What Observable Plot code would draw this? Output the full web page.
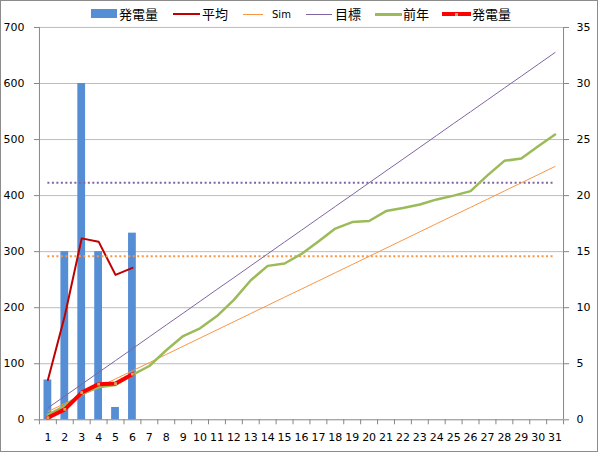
<!DOCTYPE html>
<html><head><meta charset="utf-8">
<script src="https://cdn.jsdelivr.net/npm/d3@7"></script>
<script src="https://cdn.jsdelivr.net/npm/@observablehq/plot@0.6"></script>
<style>
body{margin:0;background:#fff;}
#wrap{position:relative;width:598px;height:452px;box-sizing:border-box;border:1px solid #8c8c8c;overflow:hidden;background:#fff;}
#chart{position:absolute;left:-1px;top:-1px;}
.lg{position:absolute;font-family:"Noto Sans CJK JP";font-size:13px;line-height:13px;top:6px;color:#000;white-space:nowrap;}
.sw{position:absolute;}
</style>
</head><body>
<div id="wrap"><div id="chart"></div><div id="legend"></div></div>
<script>
// Categories (days of month)
const days = [1,2,3,4,5,6,7,8,9,10,11,12,13,14,15,16,17,18,19,20,21,22,23,24,25,26,27,28,29,30,31];
// Daily generation (left axis)
const dailyDays = [1,2,3,4,5,6];
const daily = [71,300,600,300,22,333];
// Running average of daily generation (left axis)
const average = [71,185.5,323.7,317.8,258.6,271];
// Cumulative generation (right axis)
const cumulative = [0.18,0.93,2.43,3.18,3.23,4.07];
// Simulation cumulative (right axis)
const sim = [0.73,1.46,2.19,2.92,3.65,4.37,5.1,5.83,6.56,7.29,8.02,8.75,9.48,10.21,10.94,11.66,12.39,13.12,13.85,14.58,15.31,16.04,16.77,17.5,18.23,18.95,19.68,20.41,21.14,21.87,22.6];
// Target cumulative (right axis)
const target = [1.06,2.11,3.17,4.23,5.28,6.34,7.4,8.46,9.51,10.57,11.63,12.68,13.74,14.8,15.86,16.91,17.97,19.03,20.08,21.14,22.2,23.25,24.31,25.37,26.43,27.48,28.54,29.6,30.65,31.71,32.77];
// Last year cumulative (right axis)
const lastYear = [0.44,1.25,2.3,2.9,3.11,4.0,4.8,6.2,7.47,8.16,9.25,10.7,12.45,13.73,13.94,14.8,15.9,17.06,17.64,17.73,18.62,18.89,19.2,19.66,20.0,20.4,21.8,23.1,23.3,24.4,25.45];
// Daily averages (left axis), dotted reference lines
const simDailyAvg = 291.6;
const targetDailyAvg = 422.8;
// Axis ticks
const leftTicks = [0,100,200,300,400,500,600,700];
const rightTicks = [0,5,10,15,20,25,30,35];
const rightFactor = 20; // right axis unit = left / 20

const colors = {bar:"#558ED5", avg:"#C00000", sim:"#F79646", target:"#8064A2", last:"#9BBB59", cum:"#FF0000", marker:"#D2A65C", grid:"#BDBDBD", axis:"#868686"};

const barData = dailyDays.map((d,i)=>({day:d, v:daily[i]}));
const avgData = dailyDays.map((d,i)=>({day:d, v:average[i]}));
const cumData = dailyDays.map((d,i)=>({day:d, v:cumulative[i]}));
const simData = days.map((d,i)=>({day:d, v:sim[i]}));
const tgtData = days.map((d,i)=>({day:d, v:target[i]}));
const lastData = days.map((d,i)=>({day:d, v:lastYear[i]}));
const bandEdges = [0.5].concat(days.map(d=>d+0.5));
const firstDay = days[0], lastDay = days[days.length-1];

const plot = Plot.plot({
  width: 598, height: 452,
  marginLeft: 39, marginRight: 34, marginTop: 27, marginBottom: 32,
  x: {domain:[0.5,31.5]},
  y: {domain:[0,700]},
  style: {fontFamily:"DejaVu Sans", fontSize:"11px", background:"transparent", color:"#000"},
  marks: [
    Plot.gridY(leftTicks.slice(1), {stroke:colors.grid, strokeOpacity:1}),
    Plot.axisY(leftTicks, {anchor:"left", tickSize:5, tickPadding:10, stroke:colors.axis, label:null, fontSize:11}),
    Plot.axisY(rightTicks.map(v=>v*rightFactor), {anchor:"right", tickSize:5, tickPadding:8, stroke:colors.axis, label:null, tickFormat:d=>d/rightFactor, fontSize:11}),
    Plot.axisX(bandEdges, {anchor:"bottom", tickSize:5, tickFormat:()=>"", stroke:colors.axis, label:null}),
    Plot.axisX(days, {anchor:"bottom", tickSize:0, tickPadding:13, tickFormat:d=>String(d), label:null, fontSize:11}),
    Plot.rectY(barData, {x1:d=>d.day-0.23, x2:d=>d.day+0.23, y1:0, y2:"v", fill:colors.bar}),
    Plot.line(avgData, {x:"day", y:"v", stroke:colors.avg, strokeWidth:2}),
    Plot.ruleY([simDailyAvg], {x1:firstDay, x2:lastDay, stroke:colors.sim, strokeWidth:2, strokeDasharray:"2 2.5"}),
    Plot.ruleY([targetDailyAvg], {x1:firstDay, x2:lastDay, stroke:colors.target, strokeWidth:2, strokeDasharray:"2 2.5"}),
    Plot.line(simData, {x:"day", y:d=>d.v*rightFactor, stroke:colors.sim, strokeWidth:1}),
    Plot.line(tgtData, {x:"day", y:d=>d.v*rightFactor, stroke:colors.target, strokeWidth:1}),
    Plot.line(lastData, {x:"day", y:d=>d.v*rightFactor, stroke:colors.last, strokeWidth:2.5}),
    Plot.line(cumData, {x:"day", y:d=>d.v*rightFactor, stroke:colors.cum, strokeWidth:4}),
    Plot.dot(cumData, {x:"day", y:d=>d.v*rightFactor, symbol:"square", r:1.6, fill:colors.marker, stroke:null}),
    Plot.ruleX([0.5,31.5], {y1:0, y2:700, stroke:colors.axis}),
    Plot.ruleY([0], {stroke:colors.axis})
  ]
});
document.getElementById("chart").appendChild(plot);

// Legend
const legendItems = [
  {label:"発電量", kind:"rect", x:90, w:26, tx:118},
  {label:"平均", kind:"line", x:172, w:27, color:colors.avg, sw:2, tx:201},
  {label:"Sim", kind:"line", x:242, w:20, color:colors.sim, sw:1, tx:271, small:true},
  {label:"目標", kind:"line", x:305, w:26, color:colors.target, sw:1, tx:334},
  {label:"前年", kind:"line", x:374, w:27, color:colors.last, sw:3, tx:402},
  {label:"発電量", kind:"cum", x:441, w:29, color:colors.cum, sw:4, tx:471}
];
const lg = document.getElementById("legend");
legendItems.forEach(it=>{
  const s = document.createElement("div");
  s.className="sw";
  if(it.kind==="rect"){
    Object.assign(s.style,{left:it.x+"px", top:"8px", width:it.w+"px", height:"9px", background:colors.bar});
  } else {
    Object.assign(s.style,{left:it.x+"px", top:(13-it.sw/2)+"px", width:it.w+"px", height:it.sw+"px", background:it.color});
  }
  lg.appendChild(s);
  if(it.kind==="cum"){
    const m = document.createElement("div");
    m.className="sw";
    Object.assign(m.style,{left:(it.x+it.w/2-1.5)+"px", top:"11.5px", width:"3px", height:"3px", background:"#A9A9A9"});
    lg.appendChild(m);
  }
  const t = document.createElement("div");
  t.className="lg";
  t.textContent = it.label;
  t.style.left = it.tx+"px";
  if(it.small){t.style.fontFamily="DejaVu Sans"; t.style.fontSize="10px"; t.style.top="7px";}
  lg.appendChild(t);
});
</script>
</body></html>
